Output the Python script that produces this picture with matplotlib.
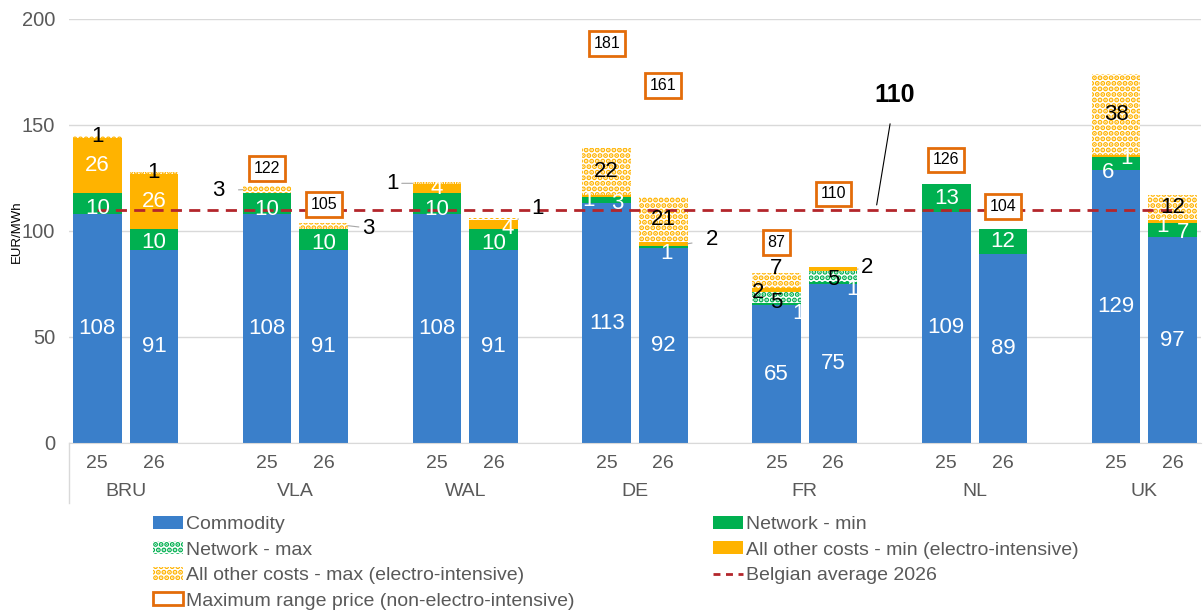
import numpy as np
import matplotlib.pyplot as plt
from matplotlib.patches import Patch
from matplotlib.lines import Line2D

plt.rcParams['font.family'] = ['Liberation Sans', 'DejaVu Sans']
plt.rcParams['hatch.linewidth'] = 2.6

# data (EUR/MWh)
countries = ['BRU', 'VLA', 'WAL', 'DE', 'FR', 'NL', 'UK']
years = ['25', '26']

commodity = [108, 91, 108, 91, 108, 91, 113, 92, 65, 75, 109, 89, 129, 97]
network_min = [10, 10, 10, 10, 10, 10, 3, 1, 1, 1, 13, 12, 6, 7]
network_max = [0, 0, 0, 0, 0, 0, 0, 0, 5, 5, 0, 0, 0, 0]
other_min = [26, 26, 0, 0, 4, 4, 1, 2, 2, 2, 0, 0, 1, 1]
other_max = [1, 1, 3, 3, 1, 1, 22, 21, 7, 0, 0, 0, 38, 12]
max_range = [None, None, 122, 105, None, None, 181, 161, 87, 110, 126, 104, None, None]
belgian_avg = 110

BLUE = '#3A7FCA'
GREEN = '#00B050'
GOLD = '#FFB300'
ORANGE = '#E36C0A'
RED = '#B3262B'
GREY = '#595959'
DOTS = '...'

series = [
    ('cmd', 'Commodity', commodity, BLUE, None, 'white'),
    ('nmin', 'Network - min', network_min, GREEN, None, 'white'),
    ('nmax', 'Network - max', network_max, GREEN, DOTS, 'black'),
    ('omin', 'All other costs - min (electro-intensive)', other_min, GOLD, None, 'white'),
    ('omax', 'All other costs - max (electro-intensive)', other_max, GOLD, DOTS, 'black'),
]

# label nudges: (dx in slots, dy in EUR/MWh, colour, leader line)
nudge = {
    (0, 'nmin'): (0.0, -2.5, None, False),
    (1, 'nmin'): (0.0, -1.5, None, False),
    (2, 'nmin'): (0.0, -3.0, None, False),
    (3, 'nmin'): (0.0, -1.7, None, False),
    (4, 'nmin'): (0.0, -3.0, None, False),
    (5, 'nmin'): (0.0, -1.7, None, False),
    (5, 'omin'): (0.25, -1.6, None, False),
    (2, 'omax'): (-0.86, -0.5, 'black', True),
    (3, 'omax'): (0.78, -1.1, 'black', True),
    (4, 'omax'): (-0.78, 0.0, 'black', True),
    (5, 'omax'): (0.77, 5.3, 'black', True),
    (6, 'nmin'): (0.19, -1.3, None, False),
    (6, 'omin'): (-0.33, -1.9, None, False),
    (7, 'nmin'): (0.06, -2.9, None, False),
    (7, 'omin'): (0.86, 1.8, 'black', True),
    (8, 'nmin'): (0.39, -4.2, None, False),
    (8, 'nmax'): (0.0, -2.0, None, False),
    (8, 'omin'): (-0.33, -0.8, 'black', False),
    (8, 'omax'): (0.0, 6.0, 'black', False),
    (9, 'nmin'): (0.35, -3.3, None, False),
    (9, 'nmax'): (0.0, -1.6, None, False),
    (9, 'omin'): (0.6, 1.0, 'black', True),
    (12, 'nmin'): (-0.15, -4.2, None, False),
    (12, 'omin'): (0.19, -1.1, None, False),
    (13, 'nmin'): (0.18, -1.0, None, False),
    (13, 'omin'): (-0.18, -2.6, None, False),
}

pos = np.array([g * 3 + j for g in range(len(countries)) for j in range(len(years))])
width = 0.86

fig = plt.figure(figsize=(12.03, 6.13), dpi=100)
ax = fig.add_axes([69 / 1203, 1 - 443 / 613, (1201 - 69) / 1203, 424 / 613])

bottom = np.zeros(len(pos))
for key, name, vals, col, hatch, lcol in series:
    vals = np.array(vals, dtype=float)
    if hatch:
        ax.bar(pos, vals, width, bottom=bottom, facecolor='white', edgecolor=col,
               hatch=hatch, linewidth=0, zorder=2)
    else:
        ax.bar(pos, vals, width, bottom=bottom, color=col, linewidth=0, zorder=2)
    for i, v in enumerate(vals):
        if v <= 0:
            continue
        yc = bottom[i] + v / 2
        dx, dy, c, leader = nudge.get((i, key), (0, 0, None, False))
        c = c or lcol
        if leader:
            side = np.sign(dx)
            ax.annotate(f'{v:g}', xy=(pos[i] + side * width / 2, yc),
                        xytext=(pos[i] + dx, yc + dy), ha='center', va='center',
                        fontsize=16, color=c, zorder=5,
                        arrowprops=dict(arrowstyle='-', color='#A6A6A6', lw=0.8,
                                        shrinkA=8, shrinkB=0))
        else:
            ax.text(pos[i] + dx, yc + dy, f'{v:g}', ha='center', va='center',
                    fontsize=16, color=c, zorder=5)
    bottom += vals

# maximum range price boxes, drawn just above the value
for i, v in enumerate(max_range):
    if v is None:
        continue
    ax.text(pos[i], v + 7.5, str(v), ha='center', va='center',
            fontsize=11.5, zorder=6,
            bbox=dict(boxstyle='square,pad=0.3', fc='white', ec=ORANGE, lw=2))

# Belgian average
ax.plot([pos[0], pos[-1]], [belgian_avg, belgian_avg], color=RED, lw=2,
        dashes=(4, 2.6), zorder=4)
ax.annotate(str(belgian_avg), xy=(13.77, 112.3), xytext=(14.09, 164),
            ha='center', va='center', fontsize=18, fontweight='bold',
            arrowprops=dict(arrowstyle='-', color='black', lw=0.8, shrinkA=10, shrinkB=0))

ax.set_xlim(-0.5, 19.5)
ax.set_ylim(0, 200)
ax.set_yticks([0, 50, 100, 150, 200])
ax.tick_params(axis='y', length=0, pad=10, labelsize=14.5, labelcolor=GREY)
ax.set_xticks([])
ax.grid(axis='y', color='#D9D9D9', lw=1, zorder=0)
ax.set_axisbelow(True)
for s in ['top', 'right', 'left']:
    ax.spines[s].set_visible(False)
ax.spines['bottom'].set_color('#D9D9D9')
fig.text(17 / 1203, 1 - 232 / 613, 'EUR/MWh', rotation=90, ha='center', va='center',
         fontsize=9.5, color='black')

# two-level category axis
tr = ax.get_xaxis_transform()
for i, p in enumerate(pos):
    ax.text(p, -20 / 424, years[i % 2], transform=tr, ha='center', va='center',
            fontsize=14, color=GREY)
for g, c in enumerate(countries):
    ax.text(g * 3 + 0.5, -49 / 424, c, transform=tr, ha='center', va='center',
            fontsize=14, color=GREY)
ax.add_line(Line2D([0, 0], [0, -60 / 424], transform=ax.transAxes, color='#D9D9D9',
                   lw=1, clip_on=False))

# legend in two columns
h = {key: (Patch(facecolor='white', edgecolor=col, hatch=hatch, linewidth=0) if hatch
           else Patch(facecolor=col, linewidth=0), name)
     for key, name, vals, col, hatch, lcol in series}
h['avg'] = (Line2D([], [], color=RED, lw=2, dashes=(2.5, 2)), 'Belgian average 2026')
h['box'] = (Patch(facecolor='white', edgecolor=ORANGE, linewidth=2),
            'Maximum range price (non-electro-intensive)')
kw = dict(frameon=False, fontsize=14, handlelength=1.55, handleheight=0.65,
          handletextpad=0.15, labelspacing=0.42, borderpad=0, borderaxespad=0,
          labelcolor=GREY, loc='upper left')
for keys, x0 in [(['cmd', 'nmax', 'omax', 'box'], 153), (['nmin', 'omin', 'avg'], 713)]:
    leg = fig.legend([h[k][0] for k in keys], [h[k][1] for k in keys],
                     bbox_to_anchor=(x0 / 1203, 1 - 516 / 613), **kw)

fig.savefig('out.png', dpi=100)
